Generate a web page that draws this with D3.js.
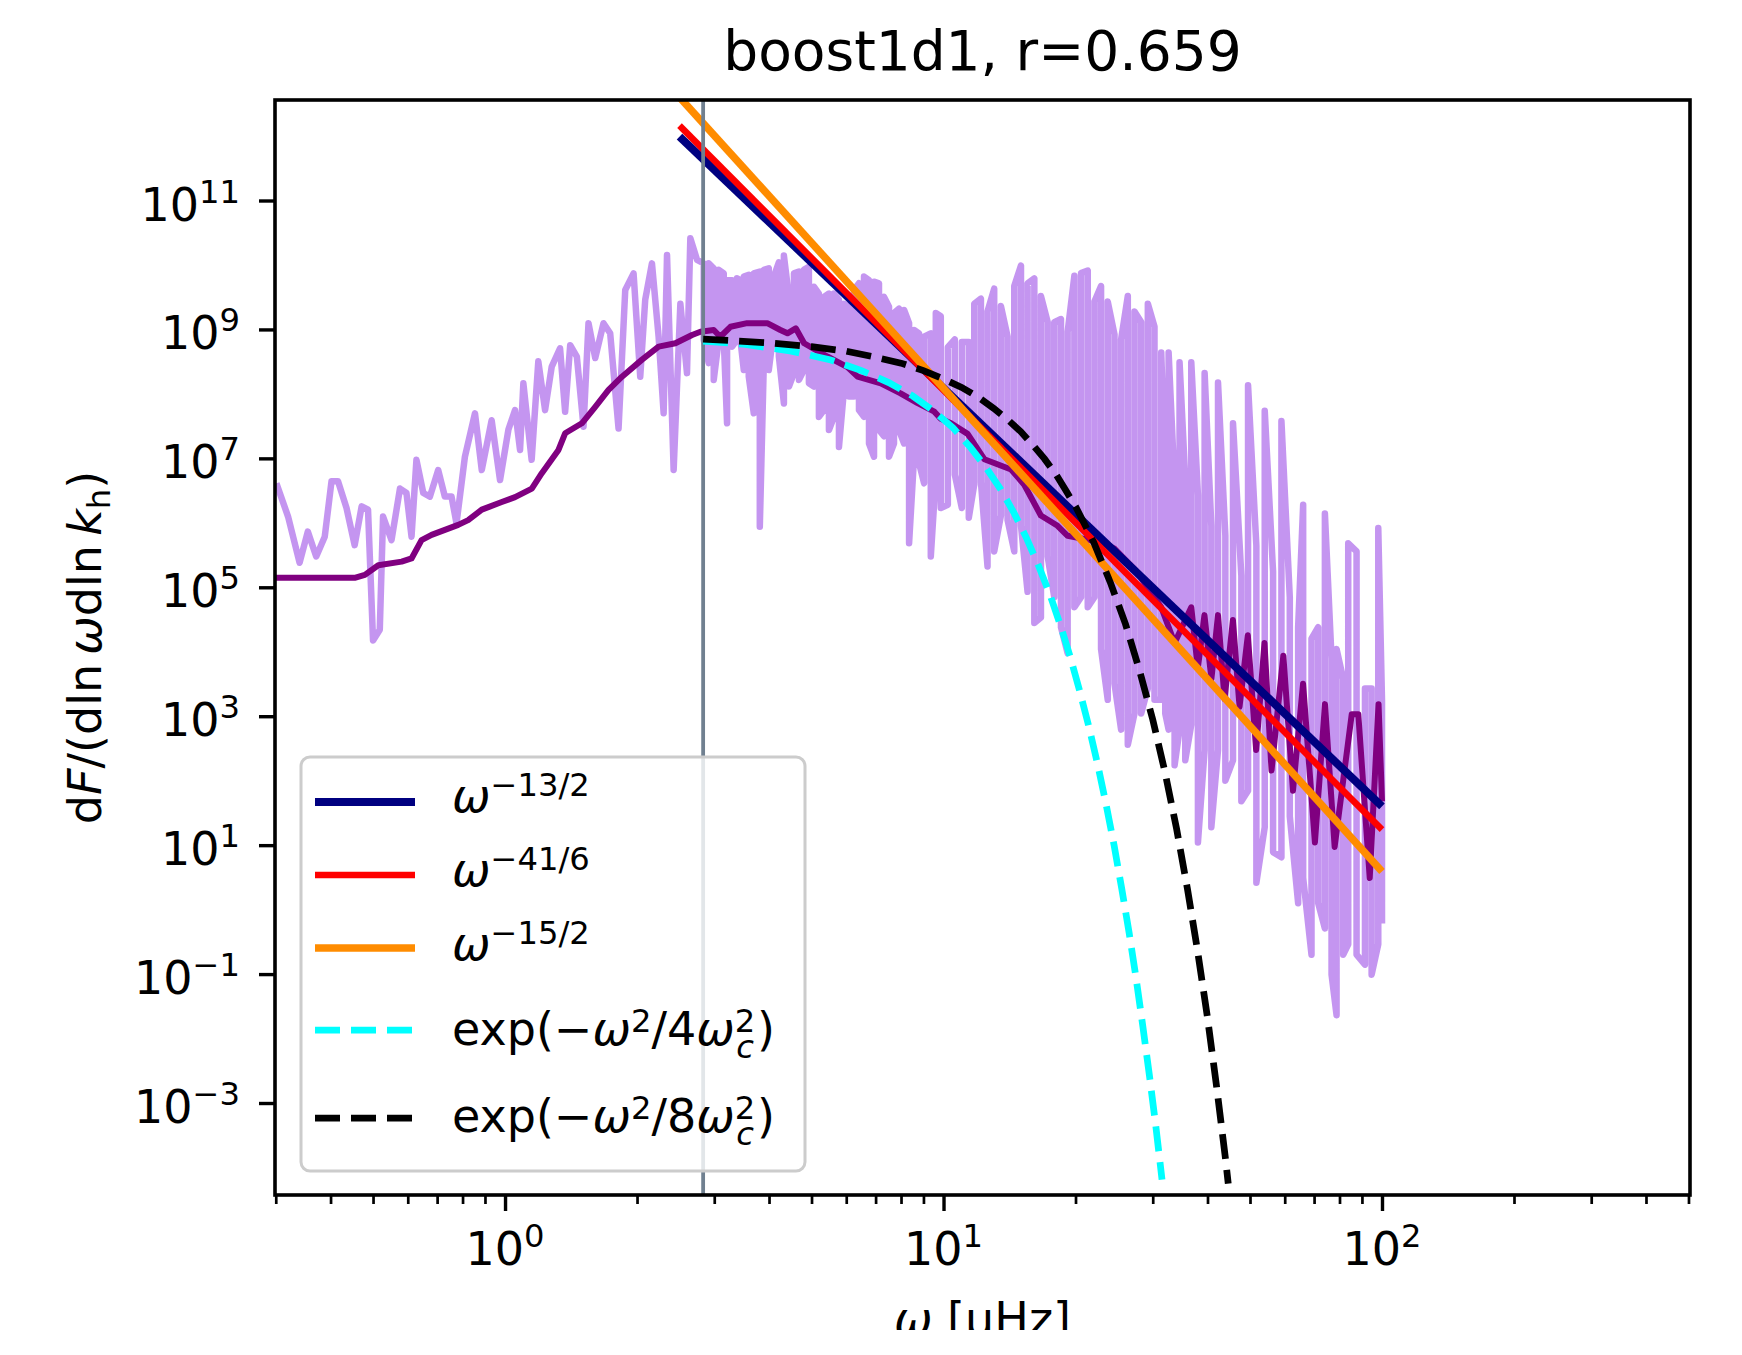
<!DOCTYPE html>
<html>
<head>
<meta charset="utf-8">
<script src="https://cdn.jsdelivr.net/npm/d3@7"></script>
<style>
body { margin: 0; background: #fff; }
svg { display: block; font-family: "DejaVu Sans", sans-serif; }
</style>
</head>
<body>
<svg id="chart"></svg>
<script>
// ---- data ----
var title = "boost1d1, r=0.659";
var omegaC = 2.83;

// raw spectrum, low frequencies: [omega, value]
var rawLine = [[0.301,4.1e6],[0.320,1.25e6],[0.340,2.4e5],[0.355,7.3e5],[0.371,3.0e5],[0.388,6.1e5],[0.402,4.4e6],[0.416,4.4e6],
  [0.435,1.7e6],[0.454,4.5e5],[0.471,1.8e6],[0.487,1.6e6],[0.500,1.5e4],[0.518,2.2e4],[0.527,1.25e6],[0.551,5.4e5],[0.576,3.4e6],
  [0.596,2.9e6],[0.612,6.1e5],[0.628,9.5e6],[0.651,2.9e6],[0.674,2.55e6],[0.704,6.6e6],[0.729,2.55e6],[0.755,2.55e6],[0.775,9.8e5],
  [0.810,1.06e7],[0.854,5.0e7],[0.885,6.6e6],[0.932,3.9e7],[0.974,4.6e6],[1.018,2.8e7],[1.054,5.6e7],[1.082,1.35e7],[1.101,1.46e8],
  [1.150,9.5e6],[1.191,3.2e8],[1.234,5.6e7],[1.278,2.65e8],[1.335,5.1e8],[1.371,5.3e7],[1.408,5.7e8],[1.458,3.8e8],[1.510,3.1e7],
  [1.550,1.25e9],[1.606,3.6e8],[1.677,1.25e9],[1.737,8.7e8],[1.815,2.9e7],[1.880,4.1e9],[1.964,7.4e9],[2.034,1.85e8],[2.088,2.9e9],
  [2.163,1.06e10],[2.240,7.7e8],[2.300,5.0e7],[2.341,1.43e10],[2.424,6.6e6],[2.511,2.5e9],[2.600,2.1e8],[2.646,2.6e10],[2.741,1.2e10]];

// raw spectrum, dense part: [omega, upper value, lower value]
var rawComb = [[2.839,1.06e10,6.9e8],[2.914,1.06e10,3.0e8],[2.992,8.9e9,1.65e8],[3.072,8.4e9,6.9e8],[3.154,7.4e9,6.9e8],
  [3.209,5.8e9,3.5e7],[3.295,5.8e9,5.4e8],[3.382,6.2e9,6.9e8],[3.442,5.8e9,6.9e8],[3.503,6.6e9,2.35e8],[3.596,7.0e9,1.85e8],
  [3.692,7.4e9,5.0e7],[3.811,7.9e9,8.7e5],[3.892,8.4e9,3.0e8],[3.995,8.9e9,2.35e8],[4.102,6.6e9,9.8e8],[4.212,1.1e10,3.8e8],
  [4.325,1.4e10,7.1e7],[4.441,3.2e9,1.3e8],[4.560,7.4e9,2.1e8],[4.681,7.9e9,1.65e8],[4.803,8.4e9,2.35e8],[4.932,9.4e9,1.46e8],
  [5.063,4.6e9,1.3e8],[5.198,3.6e9,4.4e7],[5.337,3.2e9,5.6e7],[5.479,3.6e9,2.75e7],[5.625,3.6e9,4.4e7],[5.775,2.9e9,1.5e7],
  [5.929,2.5e9,1.15e8],[6.087,2.25e9,9.1e7],[6.248,4.1e9,9.1e7],[6.415,5.2e9,5.6e7],[6.587,6.6e9,4.4e7],[6.762,5.8e9,1.7e7],
  [6.942,5.5e9,1.06e7],[7.126,5.2e9,2.75e7],[7.317,3.2e9,2.2e7],[7.511,2.25e9,1.06e7],[7.71,1.8e9,1.7e7],[7.915,2.1e9,2.75e7],
  [8.13,2.0e9,1.7e7],[8.346,1.25e9,4.8e5],[8.568,9.8e8,1.06e7],[8.795,8.7e8,8.4e6],[9.03,7.7e8,4.1e6],[9.354,8.7e8,3.0e5],
  [9.603,1.8e9,5.2e6],
  [9.858,1.6e9,1.7e6],[10.23,5.3e8,1.9e6],[10.61,7.0e8,5.6e6],[11.01,6.4e8,1.7e6],[11.42,6.4e8,1.2e6],[11.75,2.5e9,3.9e6],
  [12.17,3.0e9,4.3e6],[12.60,1.9e9,2.1e5],[13.05,4.3e9,3.6e5],[13.52,2.3e9,1.3e6],[14.00,7.7e8,1.1e6],[14.50,4.7e9,3.6e5],
  [15.02,9.8e9,9.0e5],[15.55,5.2e9,8.5e4],[16.11,6.2e9,2.8e4],[16.68,3.3e9,3.4e4],[17.28,1.3e9,3.0e5],[17.89,1.3e9,7.0e4],
  [18.53,1.45e9,2.4e4],[19.19,9.2e8,9.5e3],[19.88,6.8e9,4.9e4],[20.59,7.5e9,7.0e4],[21.33,8.2e9,4.9e4],[22.09,2.7e9,7.0e4],
  [22.87,4.7e9,1.1e4],[23.69,2.7e9,1.8e3],[24.54,8.4e8,3.2e3],[25.41,7.0e8,620],[26.32,3.3e9,360],[27.26,1.9e9,1.1e3],
  [28.23,1.3e9,1.1e3],[29.24,2.5e9,2.7e3],[30.28,1.1e9,1.8e3],
  [31.37,4.4e8,1.8e3],[32.04,5.6e6,1.1e3],[32.61,4.4e8,620],[33.65,3.9e6,173],[34.54,3.1e8,620],[35.59,4.7e6,207],
  [36.73,3.1e8,740],[38.04,2.7e6,11],[39.40,2.1e8,300],[40.81,9.0e5,19],[42.27,1.5e8,300],[43.93,6.3e5,100],
  [45.73,3.5e7,207],[47.78,1.5e5,48],[49.49,1.36e8,70],[51.70,4.4e5,2.6],[54.02,5.5e7,19],[56.44,1.75e5,7.8],
  [58.97,3.8e7,6.5],[61.62,7.0e4,28],[64.38,2.4e4,1.26],[66.10,1.9e6,3.1],[69.06,1.6e4,0.2],[71.53,2.4e4,1.26],
  [74.09,1.4e6,0.51],[76.73,7.9e3,0.098],[78.77,1.1e4,0.023],[81.58,3.8e3,0.2],[83.75,4.8e5,0.29],[87.50,3.6e5,0.2],
  [91.44,2.7e3,0.14],[94.70,2.7e3,0.098],[98.06,8.3e5,0.29],[100,1.8e3,0.61]];

// smoothed spectrum
var smoothLine = [[0.298,1.4e5],[0.454,1.4e5],[0.479,1.56e5],[0.514,2.2e5],[0.581,2.5e5],[0.612,2.8e5],[0.645,5.4e5],[0.680,6.5e5],
  [0.782,9.3e5],[0.824,1.1e6],[0.885,1.6e6],[0.983,2.1e6],[1.054,2.5e6],[1.151,3.4e6],[1.213,5.9e6],[1.324,1.35e7],[1.371,2.45e7],
  [1.497,3.5e7],[1.606,6.3e7],[1.722,1.15e8],[1.848,1.85e8],[2.053,3.4e8],[2.240,5.4e8],[2.446,6.1e8],[2.670,8.2e8],[2.790,9.2e8],
  [2.992,9.8e8],[3.097,7.7e8],[3.266,1.1e9],[3.565,1.25e9],[3.963,1.25e9],[4.246,9.8e8],[4.406,8.7e8],[4.603,1.04e9],[4.809,6.1e8],
  [5.433,3.8e8],[6.039,2.6e8],[6.368,1.85e8],[7.194,1.46e8],[7.98,1.02e8],[8.73,7.2e7],[9.53,5.3e7],[9.858,4.1e7],[10.4,3.5e7],
  [11.35,2.4e7],[12.39,9.7e6],[13.27,8.1e6],[14.26,6.7e6],[15.28,3.9e6],[16.67,1.3e6],[18.2,9.0e5],[19.19,6.3e5],[22.86,5.0e5],
  [24.5,4.0e5],[27.5,1.8e5],[31.37,4.9e4],[33.65,1.37e4],[36.73,4.9e4],[38.02,5.5e3],[39.36,3.7e4],[40.83,3.8e3],[42.27,3.7e4],
  [43.75,1.85e3],[45.71,3.1e4],[47.32,1.4e3],[49.43,1.8e4],[51.64,300],[53.95,1.37e4],[55.98,144],[59.57,8.7e3],[62.66,70],
  [66.07,3.2e3],[70.31,11],[74.13,1.54e3],[77.98,9.4],[85.3,1.07e3],[88.3,1.07e3],[93.76,3.1],[98.2,1.54e3],[100,48]];

// power-law fits (end points)
var lawA = [[2.5,9.8e11],[100,40]];     // w^-13/2
var lawB = [[2.5,1.45e12],[100,17.4]];  // w^-41/6
var lawC = [[2.5,4.0e12],[100,3.9]];    // w^-15/2

// gaussian cut-offs
var gauss4 = [[2.83,6.6e8],[3.5,5.9e8],[4.5,4.6e8],[5.5,3.4e8],[6.5,2.3e8],[7.5,1.5e8],[8.5,9.3e7],[9.5,5.4e7],[10.5,3.0e7],
  [11.5,1.5e7],[12.5,7.2e6],[13.5,3.3e6],[14.5,1.4e6],[15.5,5.6e5],[16.5,2.1e5],[17.5,7.6e4],[18.5,2.5e4],[19.5,7.9e3],
  [20.5,2.3e3],[21.5,650],[22.5,170],[23.5,42],[24.5,9.8],[25.5,2.1],[26.5,0.44],[27.5,0.085],[28.5,0.015],[29.5,2.6e-3],
  [30.5,4.3e-4],[31.5,6.5e-5]];
var gauss8 = [[2.83,7.1e8],[4,6.2e8],[5,5.4e8],[6,4.6e8],[7,3.7e8],[8,3.0e8],[9,2.3e8],[10,1.7e8],[11,1.26e8],[12,8.9e7],
  [13,6.0e7],[14,4.0e7],[15,2.6e7],[16,1.6e7],[17,9.8e6],[18,5.8e6],[19,3.2e6],[20,1.8e6],[22,5.0e5],[24,1.2e5],[26,2.7e4],
  [28,5.1e3],[30,890],[32,135],[34,18],[36,2.1],[38,0.22],[40,0.021],[42,1.7e-3],[44,1.3e-4],[44.6,5.6e-5]];

var xMajor = [1, 10, 100];
var yMajor = [1e-3, 1e-1, 1e1, 1e3, 1e5, 1e7, 1e9, 1e11];

var legendRows = [
  {color: "#000080", w: 8, dash: null, parts: [["ω","i"],["−13/2","sup"]]},
  {color: "#ff0000", w: 6.5, dash: null, parts: [["ω","i"],["−41/6","sup"]]},
  {color: "#ff8c00", w: 7.5, dash: null, parts: [["ω","i"],["−15/2","sup"]]},
  {color: "#00ffff", w: 6.75, dash: "25,11", parts: [["exp(−"],["ω","i"],["2","sup"],["/4"],["ω","i"],["2","sup"],["c","isub",-19],[")","",3]]},
  {color: "#000000", w: 6.75, dash: "25,11", parts: [["exp(−"],["ω","i"],["2","sup"],["/8"],["ω","i"],["2","sup"],["c","isub",-19],[")","",3]]}
];

// ---- layout ----
var W = 1742, H = 1355;
var plotL = 275, plotR = 1690, plotT = 100, plotB = 1195;

var svg = d3.select("#chart").attr("width", W).attr("height", H);

var x = d3.scaleLog().domain([0.2988, 504]).range([plotL, plotR]);
var y = d3.scaleLog().domain([Math.pow(10, -4.427), Math.pow(10, 12.559)]).range([plotB, plotT]);

function mathText(sel, parts, size, supShift, subShift) {
  var cur = 0;
  parts.forEach(function(p) {
    var kind = p[1] || "";
    var target = kind.indexOf("sup") >= 0 ? -supShift : (kind.indexOf("sub") >= 0 ? subShift : 0);
    var ts = sel.append("tspan").text(p[0]).attr("dy", target - cur);
    if (kind.indexOf("sup") >= 0 || kind.indexOf("sub") >= 0) ts.attr("font-size", size * 0.7);
    if (kind.indexOf("i") >= 0) ts.attr("font-style", "italic");
    if (p[2]) ts.attr("dx", p[2]);
    cur = target;
  });
}

var defs = svg.append("defs");
defs.append("clipPath").attr("id", "plotClip")
  .append("rect").attr("x", plotL).attr("y", plotT).attr("width", plotR - plotL).attr("height", plotB - plotT);
defs.append("clipPath").attr("id", "figClip")
  .append("rect").attr("x", 0).attr("y", 0).attr("width", W).attr("height", 1330);

var line = d3.line().x(d => x(d[0])).y(d => y(d[1]));

var plot = svg.append("g").attr("clip-path", "url(#plotClip)");

// noisy raw spectrum: low part + comb as a square wave between upper and lower readings
var combPts = [];
rawComb.forEach(function(d, i) {
  if (i % 2 === 0) combPts.push([d[0], d[1]], [d[0], d[2]]);
  else combPts.push([d[0], d[2]], [d[0], d[1]]);
});
plot.append("path").datum(rawLine.concat(combPts))
  .attr("d", line).attr("fill", "none")
  .attr("stroke", "#8a2be2").attr("stroke-opacity", 0.5)
  .attr("stroke-width", 6.5).attr("stroke-linejoin", "round");

plot.append("path").datum(smoothLine)
  .attr("d", line).attr("fill", "none")
  .attr("stroke", "#800080").attr("stroke-width", 6).attr("stroke-linejoin", "round");

[[lawA, legendRows[0]], [lawB, legendRows[1]], [lawC, legendRows[2]]].forEach(function(l) {
  plot.append("path").datum(l[0]).attr("d", line).attr("fill", "none")
    .attr("stroke", l[1].color).attr("stroke-width", l[1].w);
});

plot.append("line")
  .attr("x1", x(omegaC)).attr("x2", x(omegaC)).attr("y1", plotT).attr("y2", plotB)
  .attr("stroke", "#708090").attr("stroke-width", 3.8);

[[gauss4, legendRows[3]], [gauss8, legendRows[4]]].forEach(function(l) {
  plot.append("path").datum(l[0]).attr("d", line).attr("fill", "none")
    .attr("stroke", l[1].color).attr("stroke-width", l[1].w).attr("stroke-dasharray", l[1].dash);
});

// ---- axes ----
var minorX = [0.1, 1, 10, 100].flatMap(d => d3.range(2, 10).map(k => k * d))
  .filter(v => v >= 0.2988 && v <= 504);

svg.append("g").attr("transform", "translate(0," + plotB + ")")
  .call(d3.axisBottom(x).tickValues(minorX).tickSize(9).tickFormat(""))
  .call(g => g.select(".domain").remove())
  .selectAll("line").attr("stroke", "#000").attr("stroke-width", 2.7);

svg.append("g").attr("transform", "translate(0," + plotB + ")")
  .call(d3.axisBottom(x).tickValues(xMajor).tickSize(16).tickFormat(""))
  .call(g => g.select(".domain").remove())
  .selectAll("line").attr("stroke", "#000").attr("stroke-width", 3.4);

svg.append("g").attr("transform", "translate(" + plotL + ",0)")
  .call(d3.axisLeft(y).tickValues(yMajor).tickSize(16).tickFormat(""))
  .call(g => g.select(".domain").remove())
  .selectAll("line").attr("stroke", "#000").attr("stroke-width", 3.4);

svg.append("g").selectAll("text").data(xMajor).enter().append("text")
  .attr("x", d => x(d)).attr("y", 1265).attr("text-anchor", "middle")
  .attr("font-size", 46).attr("fill", "#000")
  .each(function(d) {
    mathText(d3.select(this), [["10"], [String(Math.round(Math.log10(d))), "sup"]], 46, 18, 0);
  });

svg.append("g").selectAll("text").data(yMajor).enter().append("text")
  .attr("x", 240).attr("y", d => y(d) + 20).attr("text-anchor", "end")
  .attr("font-size", 46).attr("fill", "#000")
  .each(function(d) {
    var e = Math.round(Math.log10(d));
    mathText(d3.select(this), [["10"], [(e < 0 ? "−" : "") + Math.abs(e), "sup"]], 46, 18, 0);
  });

svg.append("rect").attr("x", plotL).attr("y", plotT)
  .attr("width", plotR - plotL).attr("height", plotB - plotT)
  .attr("fill", "none").attr("stroke", "#000").attr("stroke-width", 3.6);

// ---- legend ----
var leg = svg.append("g");
leg.append("rect").attr("x", 301).attr("y", 757).attr("width", 504).attr("height", 414)
  .attr("rx", 9).attr("fill", "#fff").attr("fill-opacity", 0.8)
  .attr("stroke", "#cccccc").attr("stroke-width", 3);

var rowY = [802, 875, 948, 1030, 1118];
var rowBase = [812, 886, 960, 1045, 1132];
legendRows.forEach(function(r, i) {
  leg.append("line").attr("x1", 315).attr("x2", 415).attr("y1", rowY[i]).attr("y2", rowY[i])
    .attr("stroke", r.color).attr("stroke-width", r.w).attr("stroke-dasharray", r.dash);
  var t = leg.append("text").attr("x", 452).attr("y", rowBase[i]).attr("font-size", 46).attr("fill", "#000");
  mathText(t, r.parts, 46, i < 3 ? 16 : 13, 13);
});

// ---- titles ----
svg.append("text").attr("x", (plotL + plotR) / 2).attr("y", 70)
  .attr("text-anchor", "middle").attr("font-size", 55).attr("fill", "#000").text(title);

var yl = svg.append("text").attr("transform", "translate(101," + ((plotT + plotB) / 2) + ") rotate(-90)")
  .attr("text-anchor", "middle").attr("font-size", 46).attr("fill", "#000");
mathText(yl, [["d"], ["F","i"], ["/(dln\u2009"], ["ω","i"], ["dln\u2009"], ["k","i"], ["h","sub"], [")"]], 46, 16, 9);

var xl = svg.append("text").attr("clip-path", "url(#figClip)")
  .attr("x", (plotL + plotR) / 2).attr("y", 1335)
  .attr("text-anchor", "middle").attr("font-size", 46).attr("fill", "#000");
mathText(xl, [["ω","i"], [" [μHz]"]], 46, 16, 9);
</script>
</body>
</html>
